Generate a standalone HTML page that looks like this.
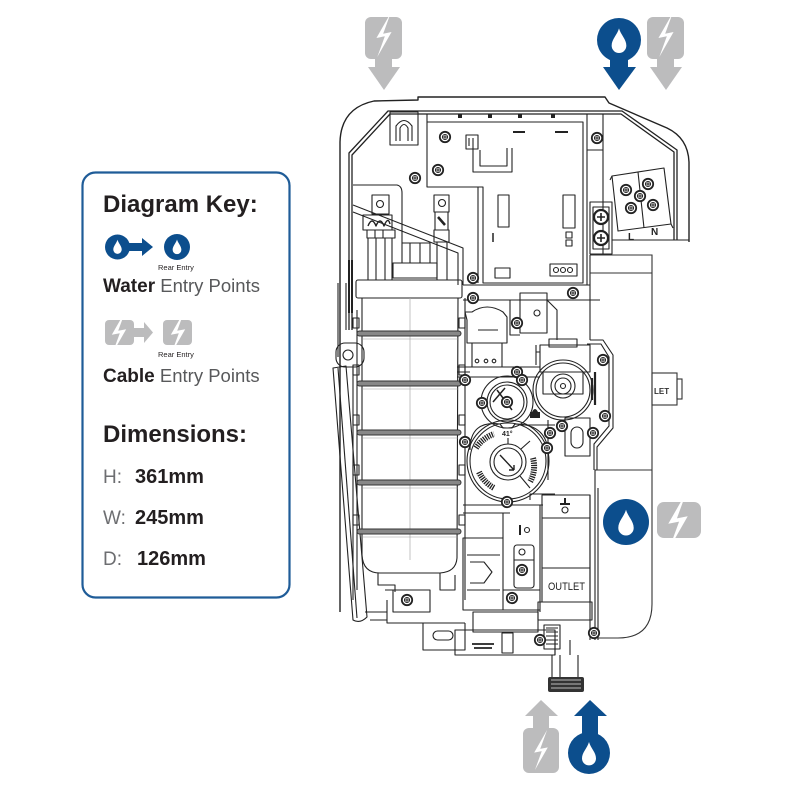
<!DOCTYPE html>
<html><head><meta charset="utf-8"><style>
html,body{margin:0;padding:0;background:#fff;}
svg{display:block}
</style></head><body>
<svg width="800" height="800" viewBox="0 0 800 800" xmlns="http://www.w3.org/2000/svg">
<defs>
<g id="s"><circle r="5.2" fill="#fff" stroke="#222" stroke-width="1.8"/><circle r="2.6" fill="none" stroke="#222" stroke-width="0.9"/><path d="M-2.5,0H2.5M0,-2.5V2.5" stroke="#222" stroke-width="0.9"/></g>
<path id="drop" d="M0,-6 C0.8,-3 3.5,-0.8 3.5,2.2 A3.5,3.5 0 0 1 -3.5,2.2 C-3.5,-0.8 -0.8,-3 0,-6 Z"/>
<path id="bolt" d="M3.2,-10.5 L-3.6,1.4 L0.4,0.6 L-3.2,10.5 L3.6,-1.4 L-0.4,-0.6 Z"/>
</defs>

<!-- ================= KEY BOX ================= -->
<rect x="82.5" y="172.5" width="207" height="425" rx="13" fill="#fff" stroke="#1f5c98" stroke-width="2.2"/>
<g font-family="Liberation Sans, sans-serif">
<text x="103" y="212" font-size="24" font-weight="bold" fill="#231f20">Diagram Key:</text>
<text x="158" y="270" font-size="7.5" fill="#231f20">Rear Entry</text>
<text x="103" y="292" font-size="19" fill="#231f20"><tspan font-weight="bold">Water</tspan><tspan fill="#58595b" font-size="18.5"> Entry Points</tspan></text>
<text x="158" y="357" font-size="7.5" fill="#231f20">Rear Entry</text>
<text x="103" y="382" font-size="19" fill="#231f20"><tspan font-weight="bold">Cable</tspan><tspan fill="#58595b" font-size="18.5"> Entry Points</tspan></text>
<text x="103" y="442" font-size="24" font-weight="bold" fill="#231f20">Dimensions:</text>
<text x="103" y="483" font-size="19" fill="#6d6e71">H:</text>
<text x="135" y="483" font-size="20" font-weight="bold" fill="#231f20">361mm</text>
<text x="103" y="524" font-size="19" fill="#6d6e71">W:</text>
<text x="135" y="524" font-size="20" font-weight="bold" fill="#231f20">245mm</text>
<text x="103" y="565" font-size="19" fill="#6d6e71">D:</text>
<text x="137" y="565" font-size="20" font-weight="bold" fill="#231f20">126mm</text>
</g>
<!-- key water icons -->
<g fill="#0c4e8d">
<circle cx="117.5" cy="247" r="12.5"/>
<rect x="127" y="243" width="16" height="8"/>
<polygon points="142,238 142,256 153,247"/>
<circle cx="177" cy="247" r="13"/>
</g>
<use href="#drop" transform="translate(117.5,247) scale(1.2)" fill="#fff"/>
<use href="#drop" transform="translate(177,247) scale(1.25)" fill="#fff"/>
<!-- key cable icons -->
<g fill="#bcbcbd">
<rect x="105" y="320" width="29" height="25" rx="4"/>
<rect x="133" y="328" width="12" height="9"/>
<polygon points="144,322 144,343 153,332.5"/>
<rect x="163" y="320" width="29" height="25" rx="4"/>
</g>
<use href="#bolt" transform="translate(119,332) scale(2)" fill="#fff"/>
<use href="#bolt" transform="translate(178,332) scale(2)" fill="#fff"/>

<!-- ================= ENTRY ICONS ================= -->
<g fill="#bcbcbd">
<rect x="365" y="17" width="37" height="42" rx="6"/>
<rect x="375" y="56" width="17" height="13"/>
<polygon points="368,67 400,67 384,90"/>
<rect x="647" y="17" width="37" height="42" rx="6"/>
<rect x="657" y="56" width="17" height="13"/>
<polygon points="650,67 682,67 666,90"/>
</g>
<use href="#bolt" transform="translate(384,35) scale(2.1)" fill="#fff"/>
<use href="#bolt" transform="translate(666,35) scale(2.1)" fill="#fff"/>
<g fill="#0c4e8d">
<circle cx="619" cy="40" r="22"/>
<rect x="610" y="56" width="18" height="13"/>
<polygon points="603,67 636,67 619,90"/>
</g>
<use href="#drop" transform="translate(619,41) scale(2.1)" fill="#fff"/>
<g fill="#bcbcbd">
<polygon points="525,716 558,716 541,700"/>
<rect x="533" y="714" width="16" height="17"/>
<rect x="523" y="728" width="36" height="45" rx="6"/>
</g>
<use href="#bolt" transform="translate(541,750) scale(1.9)" fill="#fff"/>
<g fill="#0c4e8d">
<polygon points="574,716 607,716 590,700"/>
<rect x="582" y="714" width="16" height="22"/>
<circle cx="589" cy="753" r="21"/>
</g>
<use href="#drop" transform="translate(589,754) scale(2)" fill="#fff"/>
<circle cx="626" cy="522" r="23" fill="#0c4e8d"/>
<use href="#drop" transform="translate(626,523) scale(2.2)" fill="#fff"/>
<rect x="657" y="502" width="44" height="36" rx="7" fill="#bcbcbd"/>
<use href="#bolt" transform="translate(678,520) scale(2.7)" fill="#fff"/>

<!-- ================= UNIT DRAWING ================= -->
<g fill="none" stroke="#222" stroke-width="1.1" stroke-linejoin="round">
<path d="M340,612 L340,142 Q341,108 374,101 L418,100 L418,97 L605,97 L609,103 L667,128 Q688,138 689,162 L689,242" stroke-width="1.4"/>
<path d="M349,330 L349,153 L388,111 L622,111 L677,150 L677,240" stroke-width="1.3"/>
<path d="M352,330 L352,155 L390,114 L621,114 L674,152 L674,240" stroke-width="1.3"/>
<path d="M612,240 L689,240"/>
<rect x="390" y="112" width="28" height="33"/>
<path d="M396,141 L396,126 Q404,115 412,126 L412,141 M400,141 L400,128 Q404,121 408,128 L408,141"/>
<path d="M427,122 L583,122 L583,283 L483,283 L483,187 L427,187 Z"/>
<path d="M427,114 L427,122 M587,114 L587,285 M603,114 L603,255 M587,150 L603,150 M478,187 L478,283"/>
<g fill="#222" stroke="none">
<rect x="458" y="114" width="4" height="4"/><rect x="488" y="114" width="4" height="4"/><rect x="518" y="114" width="4" height="4"/><rect x="551" y="114" width="4" height="4"/>
</g>
<path d="M513,132 H525 M555,132 H568" stroke-width="2"/>
<rect x="466" y="135" width="12" height="14"/>
<path d="M469,138 V146 M473,138 V146"/>
<path d="M473,146 V172 H512 V148 M480,150 V166 H507 V148"/>
<rect x="498" y="195" width="11" height="32"/>
<rect x="563" y="195" width="12" height="33"/>
<rect x="566" y="232" width="6" height="6"/><rect x="566" y="240" width="6" height="6"/>
<path d="M493,233 V242" stroke-width="1.5"/>
<rect x="495" y="268" width="15" height="10"/>
<rect x="550" y="264" width="27" height="12"/>
<circle cx="556" cy="270" r="2.5"/><circle cx="563" cy="270" r="2.5"/><circle cx="570" cy="270" r="2.5"/>
<path d="M612,176 L664,168 L671,224 L618,231 Z"/>
<path d="M638,172 L644,228"/>
<path d="M610,180 L612,176 M671,224 L673,228"/>
<text x="628" y="240" font-size="10" font-weight="bold" fill="#222" stroke="none" font-family="Liberation Sans, sans-serif">L</text>
<text x="651" y="235" font-size="10" font-weight="bold" fill="#222" stroke="none" font-family="Liberation Sans, sans-serif">N</text>
<rect x="590" y="202" width="22" height="52"/>
<rect x="593" y="207" width="16" height="42"/>
<path d="M353,185 L397,185 Q402,186 402,193 L402,243"/>
<path d="M353,205 L463,248 L463,285 M353,212 L458,253 L458,285" />
<rect x="372" y="195" width="17" height="19"/>
<circle cx="380" cy="204" r="3.5"/>
<rect x="363" y="215" width="29" height="15"/>
<path d="M368,226 Q372,216 376,226 Q380,216 384,226 Q388,216 390,224" stroke-width="1.4"/>
<rect x="367" y="230" width="28" height="8"/>
<path d="M375,230 V238 M383,230 V238"/>
<path d="M368,238 V280 M376,238 V280 M385,238 V280 M392,238 V280"/>
<rect x="434" y="195" width="15" height="17"/>
<circle cx="442" cy="203" r="3.5"/>
<rect x="435" y="212" width="13" height="18"/>
<path d="M438,217 L445,225" stroke-width="2.5"/>
<rect x="434" y="230" width="15" height="12"/>
<path d="M437,242 V280 M447,242 V280"/>
<rect x="402" y="243" width="28" height="20"/>
<path d="M410,243 V263 M420,243 V263"/>
<rect x="393" y="263" width="44" height="15"/>
<path d="M338,283 L338,357 M346,283 L346,330" />
<path d="M349,260 V313 M352,260 V313" stroke-width="2"/>
<path d="M333,368 L353,620 Q360,624 367,617 L346,366 Z"/>
<path d="M338,368 L357,618"/>
<rect x="336" y="343" width="28" height="24" rx="9"/>
<circle cx="348" cy="355" r="5"/>
<path d="M353,368 V600 M357,310 V590"/>
<rect x="356" y="280" width="106" height="18" rx="2"/>
<path d="M362,298 V555 Q363,573 380,573 L440,573 Q456,572 457,558 L458,298"/>
<path d="M410,298 V560" stroke="#aaa" stroke-width="0.7"/>
<g stroke="#333" stroke-width="1" fill="#888">
<rect x="357" y="331" width="104" height="5" rx="2.5"/>
<rect x="357" y="381" width="104" height="5" rx="2.5"/>
<rect x="357" y="430" width="104" height="5" rx="2.5"/>
<rect x="357" y="480" width="104" height="5" rx="2.5"/>
<rect x="357" y="529" width="104" height="5" rx="2.5"/>
</g>
<g stroke="#999" stroke-width="0.6">
<path d="M362,339 H458 M362,389 H458 M362,438 H458 M362,488 H458 M362,537 H458"/>
</g>
<g>
<rect x="353" y="318" width="6" height="10"/><rect x="353" y="365" width="6" height="10"/><rect x="353" y="415" width="6" height="10"/><rect x="353" y="465" width="6" height="10"/><rect x="353" y="515" width="6" height="10"/>
<rect x="459" y="318" width="6" height="10"/><rect x="459" y="365" width="6" height="10"/><rect x="459" y="415" width="6" height="10"/><rect x="459" y="465" width="6" height="10"/><rect x="459" y="515" width="6" height="10"/>
</g>
<path d="M465,298 V600"/>
<path d="M378,573 V585 L395,585 V592 M440,573 V590 L455,590 V575"/>
<path d="M385,590 H430 V612 H393 V590"/>
<path d="M387,600 V623 L423,623 V650 L465,650 V623 M423,623 H465"/>
<rect x="433" y="631" width="20" height="9" rx="4.5"/>
<path d="M365,612 H387 M370,620 H387"/>
<path d="M463,285 H590 M463,300 H600 M590,255 V340"/>
<path d="M465,312 L472,312 Q487,302 503,312 L507,317 V343 H467 V320 Z"/>
<path d="M472,343 V367 M502,343 V367 M478,330 H498"/>
<circle cx="477" cy="361" r="1.8"/><circle cx="486" cy="361" r="1.8"/><circle cx="494" cy="361" r="1.8"/>
<path d="M457,367 H540 M457,377 H540 M457,372 H470"/>
<rect x="520" y="293" width="27" height="40"/>
<circle cx="537" cy="313" r="3"/>
<path d="M510,300 V335 H520 M547,300 L557,310 V340"/>
<path d="M540,345 H590 V372 H540 Z"/>
<rect x="549" y="339" width="28" height="8"/>
<path d="M536,352 H540 M536,345 V365"/>
<circle cx="563" cy="390" r="27"/>
<circle cx="563" cy="390" r="30"/>
<rect x="543" y="372" width="40" height="22"/>
<circle cx="563" cy="386" r="12"/>
<circle cx="563" cy="386" r="8"/>
<circle cx="563" cy="386" r="2.5"/>
<path d="M595,372 V405 M592,378 V400" stroke-width="2.2"/>
<path d="M590,340 H603 L613,355 V428 L597,447 V470 L595,470 V640"/>
<path d="M587,344 H601 L609,357 V426 L594,444 V470"/>
<circle cx="507" cy="402" r="26"/>
<circle cx="507" cy="402" r="20"/>
<circle cx="507" cy="402" r="17"/>
<path d="M497,390 L512,410 M493,402 L505,388" stroke-width="1.5"/>
<path d="M470,450 Q470,420 500,424 L503,428 L512,428 L515,424 Q545,424 548,450"/>
<circle cx="508" cy="461" r="41"/>
<circle cx="508" cy="461" r="38"/>
<circle cx="508" cy="462" r="18"/>
<circle cx="508" cy="462" r="14"/>
<path d="M500,455 L514,470 M514,470 L509,470 M514,470 L514,465" stroke-width="1.4"/>
<path d="M508,444 V438 M521,449 L530,441 M520,476 L530,488" />
<g stroke="#222" stroke-width="6" stroke-dasharray="1.3 1">
<path d="M476,448 A35,35 0 0 1 494,434"/>
<path d="M479,472 A35,35 0 0 0 494,488"/>
<path d="M533,458 A32,32 0 0 1 530,482"/>
</g>
<text x="502" y="436" font-size="7" font-weight="bold" fill="#222" stroke="none" font-family="Liberation Sans, sans-serif">41°</text>
<path d="M530,412 h10 v6 h-10 z M532,412 q3,-6 6,0" fill="#222" stroke="none"/>
<path d="M520,425 H555 M548,420 V480 M530,500 V494 H555"/>
<rect x="565" y="418" width="25" height="38"/>
<rect x="571" y="427" width="12" height="21" rx="6"/>
<path d="M463,505 H543 M463,513 H510 M503,513 V538 M540,505 V612"/>
<rect x="463" y="538" width="40" height="72"/>
<path d="M470,562 L484,562 L492,572 L484,583 L470,583" />
<path d="M467,555 H500 M467,590 H500"/>
<rect x="514" y="545" width="20" height="43" rx="3"/>
<path d="M514,560 H534"/>
<circle cx="522" cy="552" r="3"/>
<path d="M520,525 V535" stroke-width="2"/><circle cx="527" cy="530" r="2.5"/>
<path d="M503,610 H540 M503,590 H540"/>
<rect x="473" y="612" width="65" height="20"/>
<path d="M455,630 H555 V655 H455 Z"/>
<rect x="502" y="633" width="11" height="20"/>
<path d="M472,644 h22 M474,648 h18" stroke-width="1.8"/>
<path d="M546,628 h12 M546,632 h12 M546,636 h12 M546,640 h12 M546,644 h12" />
<rect x="544" y="625" width="16" height="24"/>
<rect x="542" y="495" width="48" height="107"/>
<path d="M542,518 H590 M542,568 H590"/>
<path d="M560,504 h10 M565,498 v6" stroke-width="2"/>
<circle cx="565" cy="510" r="3"/>
<text x="548" y="590" font-size="11" fill="#222" stroke="none" font-family="Liberation Sans, sans-serif" textLength="37" lengthAdjust="spacingAndGlyphs">OUTLET</text>
<path d="M538,602 H592 V620 H538 Z"/>
<path d="M590,495 V640 M598,488 V640"/>
<path d="M552,655 V677 M578,655 V677 M560,655 V677"/>
<path d="M555,640 V655 M570,640 V655"/>
</g>
<g fill="#333">
<rect x="548" y="677" width="36" height="15" rx="2"/>
</g>
<path d="M551,680 H581 M551,684 H581 M551,688 H581" stroke="#bbb" stroke-width="1"/>

<g fill="none" stroke="#333" stroke-width="1.1">
<path d="M590,255 H652 V604 Q652,638 618,638 H596"/>
<path d="M590,273 H652 M597,470 H652"/>
<rect x="652" y="373" width="25" height="32"/>
<rect x="677" y="379" width="5" height="20"/>
</g>
<text x="654" y="394" font-size="8" font-weight="bold" fill="#333" font-family="Liberation Sans, sans-serif">LET</text>

<g>
<use href="#s" x="445" y="137"/><use href="#s" x="438" y="170"/><use href="#s" x="415" y="178"/>
<use href="#s" x="597" y="138"/><use href="#s" x="473" y="278"/><use href="#s" x="473" y="298"/>
<use href="#s" x="573" y="293"/><use href="#s" x="517" y="323"/><use href="#s" x="603" y="360"/>
<use href="#s" x="517" y="372"/><use href="#s" x="465" y="380"/><use href="#s" x="482" y="403"/>
<use href="#s" x="522" y="380"/><use href="#s" x="507" y="402"/><use href="#s" x="605" y="416"/>
<use href="#s" x="562" y="426"/><use href="#s" x="550" y="433"/><use href="#s" x="593" y="433"/>
<use href="#s" x="465" y="442"/><use href="#s" x="547" y="448"/><use href="#s" x="507" y="502"/>
<use href="#s" x="407" y="600"/><use href="#s" x="512" y="598"/><use href="#s" x="522" y="570"/>
<use href="#s" x="594" y="633"/><use href="#s" x="540" y="640"/>
<use href="#s" x="626" y="190"/><use href="#s" x="648" y="184"/><use href="#s" x="631" y="208"/><use href="#s" x="653" y="205"/><use href="#s" x="640" y="196"/>
</g>
<g>
<circle cx="601" cy="217" r="7" fill="#fff" stroke="#222" stroke-width="2.2"/><path d="M597,217h8M601,213v8" stroke="#222" stroke-width="1.6"/>
<circle cx="601" cy="238" r="7" fill="#fff" stroke="#222" stroke-width="2.2"/><path d="M597,238h8M601,234v8" stroke="#222" stroke-width="1.6"/>
</g>
</svg>
</body></html>
